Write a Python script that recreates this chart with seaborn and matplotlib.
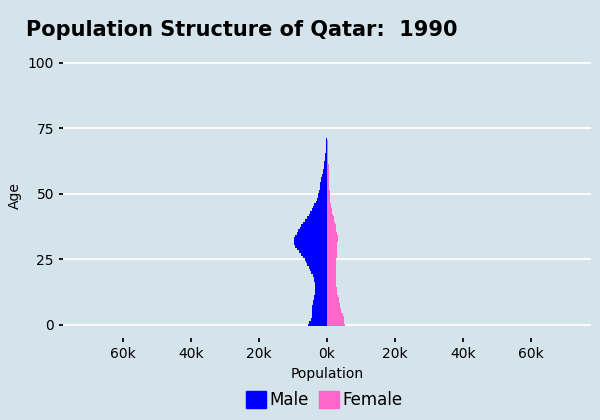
import numpy as np
import pandas as pd
import matplotlib
matplotlib.use("Agg")
import matplotlib.pyplot as plt
import seaborn as sns
from matplotlib.patches import Patch

# population in thousands by single year of age, Qatar 1990
ages = list(range(74))
male = [5.5, 5.3, 4.6, 4.5, 4.4, 4.4, 4.3, 4.3, 4.2, 4.0,
        3.8, 3.7, 3.6, 3.6, 3.6, 3.6, 3.6, 3.7, 3.9, 4.2,
        4.6, 5.0, 5.4, 5.8, 6.1, 6.5, 7.0, 7.6, 8.3, 8.8,
        9.3, 9.8, 9.8, 9.6, 9.3, 8.9, 8.4, 8.0, 7.5, 7.1,
        6.6, 6.0, 5.4, 4.9, 4.5, 4.1, 3.7, 3.3, 3.0, 2.7,
        2.5, 2.4, 2.2, 2.1, 2.0, 1.9, 1.7, 1.5, 1.3, 1.1,
        1.0, 0.9, 0.8, 0.7, 0.6, 0.5, 0.4, 0.35, 0.3, 0.25,
        0.2, 0.15, 0.1, 0.1]
female = [5.2, 5.1, 5.0, 4.9, 4.6, 4.2, 4.0, 3.8, 3.7, 3.5,
          3.4, 3.2, 3.0, 2.9, 2.8, 2.7, 2.6, 2.6, 2.5, 2.5,
          2.5, 2.5, 2.6, 2.6, 2.7, 2.7, 2.8, 2.8, 2.9, 2.9,
          2.9, 3.0, 3.1, 3.2, 3.2, 3.0, 2.7, 2.6, 2.5, 2.3,
          2.2, 2.0, 1.8, 1.6, 1.4, 1.3, 1.1, 1.0, 0.9, 0.85,
          0.8, 0.75, 0.7, 0.65, 0.6, 0.6, 0.55, 0.5, 0.5, 0.5,
          0.5, 0.45, 0.4, 0.35, 0.3, 0.3, 0.25, 0.2, 0.2, 0.2,
          0.2, 0.0, 0.0, 0.0]

bg = "#d5e3ea"
sns.set_theme(style="white", rc={"axes.facecolor": bg, "figure.facecolor": bg,
                                 "text.color": "black", "axes.labelcolor": "black"})
plt.rcParams['font.family'] = ['DejaVu Sans']

df = pd.DataFrame({"Age": ages + ages,
                   "Population": [-m * 1000 for m in male] + [f * 1000 for f in female],
                   "Sex": ["Male"] * len(ages) + ["Female"] * len(ages)})

fig, ax = plt.subplots(figsize=(6, 4.2), dpi=100)
fig.subplots_adjust(left=0.105, right=0.985, top=0.875, bottom=0.195)
for y in [0, 25, 50, 75, 100]:
    ax.axhline(y, color="white", lw=1.3, zorder=0)
sns.barplot(data=df, x="Population", y="Age", hue="Sex", orient="h",
            native_scale=True, width=1, dodge=False, saturation=1,
            palette={"Male": "#0000ff", "Female": "#ff66cc"},
            linewidth=0, legend=False, ax=ax, zorder=2)
ax.set_xlim(-77600, 77600)
ax.set_ylim(-5, 104)
ax.set_yticks([0, 25, 50, 75, 100])
ax.set_yticklabels(["0", "25", "50", "75", "100"])
xt = [-60000, -40000, -20000, 0, 20000, 40000, 60000]
ax.set_xticks(xt)
ax.set_xticklabels([f"{abs(v)//1000}k" for v in xt])
ax.tick_params(axis="both", labelsize=10, colors="black", length=3, left=True, bottom=True)
ax.set_xlabel("Population", fontsize=10)
ax.set_ylabel("Age", fontsize=10)
for s in ax.spines.values():
    s.set_visible(False)
ax.set_title("Population Structure of Qatar:  1990", loc="left", fontsize=15,
             fontweight="bold", x=-0.07, pad=12)
handles = [Patch(color="#0000ff", label="Male"), Patch(color="#ff66cc", label="Female")]
fig.legend(handles=handles, loc="lower center", ncol=2, frameon=False, fontsize=12,
           handlelength=1.2, handleheight=1.2, columnspacing=0.6, handletextpad=0.2,
           bbox_to_anchor=(0.54, -0.01))
fig.savefig("out.png", dpi=100, facecolor=bg)
